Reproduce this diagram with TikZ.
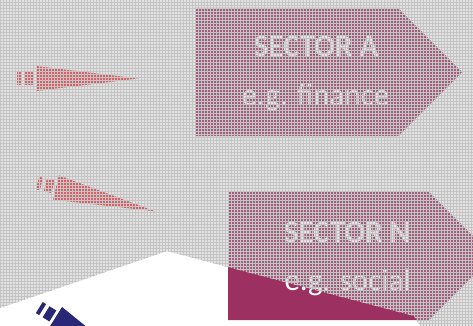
\documentclass[tikz,border=0pt]{standalone}
\usepackage{fontspec}
\setmainfont{Carlito}
\usetikzlibrary{patterns}
\definecolor{secmag}{RGB}{156,48,96}
\definecolor{navyblue}{RGB}{42,40,118}
\definecolor{wedgered}{RGB}{240,50,62}
\definecolor{ovlgray}{RGB}{175,175,175}
\definecolor{gridgray}{RGB}{196,196,196}
\tikzset{
  sector/.style={fill=secmag},
  sectitle/.style={text=white, font=\fontsize{31}{31}\selectfont\bfseries, anchor=base, inner sep=0pt},
  secsub/.style={text=white, font=\fontsize{31}{31}\selectfont, anchor=base, inner sep=0pt},
  wedgepic/.pic={
    \fill (-19,-6.5) rectangle (-15,6.5);
    \fill (-11,-6.5) rectangle (-3,6.5);
    \fill (0,-12.5) -- (0,12.5) -- (102,0) -- cycle;
  },
  veil/.style={fill=ovlgray, fill opacity=0.36},
  veilgrid/.style={pattern=grid, pattern color=gridgray},
}
\begin{document}
\begin{tikzpicture}[x=1pt,y=-1pt]
  \useasboundingbox (0,0) rectangle (473,326);
  \fill[white] (0,0) rectangle (473,326);
  % sector arrows
  \fill[sector] (196,8) -- (398,8) -- (462,72) -- (398,136) -- (196,136) -- cycle;
  \fill[sector] (228,192) -- (429,192) -- (493,256) -- (429,320) -- (228,320) -- cycle;
  \node[sectitle] (titleA) at (316,57) {SECTOR A};
  \node[secsub] (subA) at (315.5,106) {e.g. finance};
  \node[sectitle] (titleN) at (347,242) {SECTOR N};
  \node[secsub] (subN) at (347.5,290) {e.g. social};
  % wedges
  \pic[color=wedgered] at (36,78.5) {wedgepic};
  \pic[color=wedgered, rotate=-13.5] at (56,187.5) {wedgepic};
  \pic[color=navyblue, rotate=-32] at (55.4,317.6) {wedgepic};
  % grey veil over everything outside the white region
  \path[veil] (0,0) -- (473,0) -- (473,326) -- (420,326) -- (414,316) -- (167,251) -- (0,308) -- cycle;
  \path[veilgrid] (0,0) -- (473,0) -- (473,326) -- (420,326) -- (414,316) -- (167,251) -- (0,308) -- cycle;
\end{tikzpicture}
\end{document}
